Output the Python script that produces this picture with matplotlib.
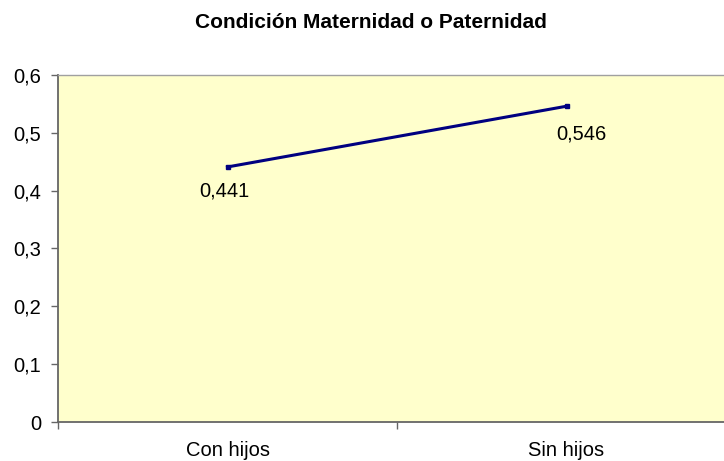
import matplotlib
matplotlib.use('Agg')
import matplotlib.pyplot as plt

categories = ['Con hijos', 'Sin hijos']
values = [0.441, 0.546]
value_labels = ['0,441', '0,546']
y_ticks = [0, 0.1, 0.2, 0.3, 0.4, 0.5, 0.6]
y_tick_labels = ['0', '0,1', '0,2', '0,3', '0,4', '0,5', '0,6']

plt.rcParams['font.family'] = ['Liberation Sans', 'DejaVu Sans']
fs = 14.5

fig = plt.figure(figsize=(7.24, 4.61), dpi=100)
ax = fig.add_axes([58/724, 39/461, 678/724, 347/461])
ax.set_facecolor('#FFFFCC')

x = [0.5, 1.5]
ax.plot(x, values, color='#000080', lw=2.2, marker='s', markersize=3.5)

# data labels: first below-left, second below-right
ax.annotate(value_labels[0], (x[0], values[0]), xytext=(-2, -17), textcoords='offset points',
            ha='center', va='center', fontsize=fs)
ax.annotate(value_labels[1], (x[1], values[1]), xytext=(11, -20), textcoords='offset points',
            ha='center', va='center', fontsize=fs)

ax.set_xlim(0, 2)
ax.set_ylim(0, 0.6)
ax.set_yticks(y_ticks)
ax.set_yticklabels(y_tick_labels, fontsize=fs)
ax.set_xticks([0, 1, 2])
ax.set_xticklabels([])
ax.set_xticks(x, minor=True)
ax.set_xticklabels(categories, minor=True, fontsize=fs)
ax.tick_params(axis='x', which='minor', length=0, pad=14)
ax.tick_params(axis='both', which='major', length=5, width=1, color='#666666', direction='out')
ax.tick_params(axis='y', pad=7)

for side in ['left', 'bottom']:
    ax.spines[side].set_color('#666666')
    ax.spines[side].set_linewidth(1.3)
ax.spines['top'].set_color('#A0A0A0')
ax.spines['top'].set_linewidth(1)
ax.spines['right'].set_visible(False)

fig.text(371/724, 1 - 23/461, 'Condición Maternidad o Paternidad', ha='center', va='center',
         fontsize=15, fontweight='bold')

fig.savefig('out.png', dpi=100)
